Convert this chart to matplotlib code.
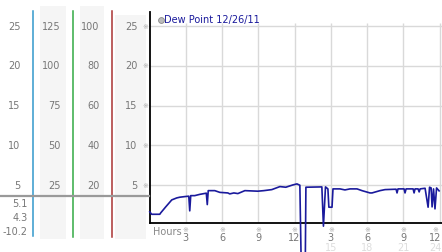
import matplotlib
matplotlib.use("Agg")
import matplotlib.pyplot as plt
from matplotlib import transforms
from matplotlib.lines import Line2D
from matplotlib.patches import Rectangle

# dew point trace, hours since midnight 12/26/11
hours = [0.02, 0.18, 0.85, 0.93, 1.34, 1.84, 2.25, 2.50, 2.92, 3.25, 3.33, 3.41,
         3.74, 4.16, 4.70, 4.78, 4.86, 5.40, 5.82, 6.48, 6.64, 6.98, 7.31, 7.89,
         8.96, 9.46, 10.12, 10.79, 11.28, 11.86, 12.20, 12.44, 12.61, 12.86, 12.94,
         14.26, 14.39, 14.56, 14.76, 14.84, 15.10, 15.18, 15.76, 16.17, 16.59,
         17.17, 17.58, 18.24, 18.41, 19.07, 19.49, 20.40, 20.48, 20.56, 21.06,
         21.14, 21.23, 21.81, 21.89, 21.97, 22.22, 22.31, 22.39, 22.80, 23.05,
         23.17, 23.30, 23.38, 23.50, 23.62, 23.75, 23.96]
dewpoint = [1.60, 1.30, 1.30, 1.48, 2.23, 3.11, 3.36, 3.45, 3.53, 3.58, 1.73, 3.65,
            3.65, 3.81, 3.96, 2.52, 4.28, 4.28, 4.06, 3.99, 3.87, 3.99, 3.91, 4.28,
            4.21, 4.28, 4.41, 4.79, 4.71, 5.00, 5.13, 4.96, -10.2, -10.2, 4.71,
            4.75, -0.2, 4.75, 4.50, 2.19, 2.19, 4.50, 4.50, 4.37, 4.50,
            4.50, 4.28, 3.99, 3.99, 4.28, 4.41, 4.46, 3.99, 4.50, 4.50,
            3.99, 4.50, 4.50, 3.99, 4.50, 4.50, 4.12, 4.50, 4.58, 2.19,
            4.71, 4.62, 2.23, 4.50, 1.98, 4.62, 4.25]

y_ticks = [5, 10, 15, 20, 25]
col2_labels = ["25", "50", "75", "100", "125"]
col3_labels = ["20", "40", "60", "80", "100"]
x_ticks = [3, 6, 9, 12, 15, 18, 21, 24]
x_labels = ["3", "6", "9", "12", "3", "6", "9", "12"]
x_faint = ["", "", "", "", "15", "18", "21", "24"]
stats = ["5.1", "4.3", "-10.2"]
legend_label = "Dew Point 12/26/11"

W, H = 442, 253
fig = plt.figure(figsize=(W / 100, H / 100), dpi=100)
fig.patch.set_facecolor("white")


def fx(x):
    return x / W


def fy(y):
    return 1 - y / H


ax = fig.add_axes([fx(149.5), fy(224), (W - 149.5) / W, (224 - 13) / H])
ax.set_xlim(0, 24.2)
ax.set_ylim(0.2, 26.8)
ax.set_xticks([])
ax.set_yticks([])
for s in ["top", "right"]:
    ax.spines[s].set_visible(False)
ax.spines["left"].set_color("black")
ax.spines["bottom"].set_color("black")
ax.spines["left"].set_linewidth(1.3)
ax.spines["bottom"].set_linewidth(1.3)

# grid
ax.hlines(y_ticks, 0, 24.2, color="#d9d9d9", lw=1, zorder=1)
ax.vlines(x_ticks, 0.2, 25.4, color="#d9d9d9", lw=1, zorder=1)

ax.plot(hours, dewpoint, color="#1a1a9c", lw=1.2, clip_on=False, zorder=3)

# legend
fig.add_artist(Line2D([fx(160.5)], [fy(20.5)], marker="o", ms=4.2,
                      mfc="#bbbbbb", mec="#888888", mew=0.6))
fig.text(fx(164.5), fy(20.5), legend_label, color="#1a1a9c", fontsize=7,
         va="center", ha="left")

# x tick labels
tr = transforms.blended_transform_factory(ax.transData, fig.transFigure)
fig.text(fx(153), fy(232), "Hours", color="#888888", fontsize=7, va="center")
for xt, lab, faint in zip(x_ticks, x_labels, x_faint):
    xp = xt - 0.35 if xt == 24 else xt
    ax.text(xp, fy(230.5), "※", transform=tr, color="#aaaaaa", fontsize=5,
            ha="center", va="center")
    ax.text(xp, fy(238), lab, transform=tr, color="#777777", fontsize=7,
            ha="center", va="center")
    if faint:
        ax.text(xp, fy(248), faint, transform=tr, color="#dddddd", fontsize=7,
                ha="center", va="center")

# left panel: bands, coloured scale lines, labels
for x0, x1, y0 in [(40, 65.5, 7), (80, 104, 7), (115, 146, 16)]:
    fig.add_artist(Rectangle((fx(x0), fy(240)), (x1 - x0) / W, (240 - y0) / H,
                             transform=fig.transFigure, color="#f5f5f5", lw=0, zorder=0))
for xl, c, yb in [(33, "#3399cc", 237), (72.5, "#33aa44", 238), (111.5, "#aa3333", 238)]:
    fig.add_artist(Line2D([fx(xl), fx(xl)], [fy(12), fy(yb)], color=c, lw=1.1))
fig.add_artist(Line2D([0, fx(149)], [fy(197), fy(197)], color="#999999", lw=1.6, zorder=2))

label_y = {5: 186, 10: 146, 15: 106, 20: 66, 25: 27}
for i, v in enumerate(y_ticks):
    y = fy(label_y[v])
    fig.text(fx(20.5), y, str(v), color="#777777", fontsize=7, ha="right", va="center")
    fig.text(fx(60.5), y, col2_labels[i], color="#777777", fontsize=7, ha="right", va="center")
    fig.text(fx(99.5), y, col3_labels[i], color="#777777", fontsize=7, ha="right", va="center")
    fig.text(fx(137.5), y, str(v), color="#777777", fontsize=7, ha="right", va="center")
    fig.text(fx(145), y, "※", color="#aaaaaa", fontsize=5, ha="center", va="center")

for s, y in zip(stats, [204, 218, 232]):
    fig.text(fx(27.5), fy(y), s, color="#777777", fontsize=7, ha="right", va="center")

fig.savefig("out.png", dpi=100)
